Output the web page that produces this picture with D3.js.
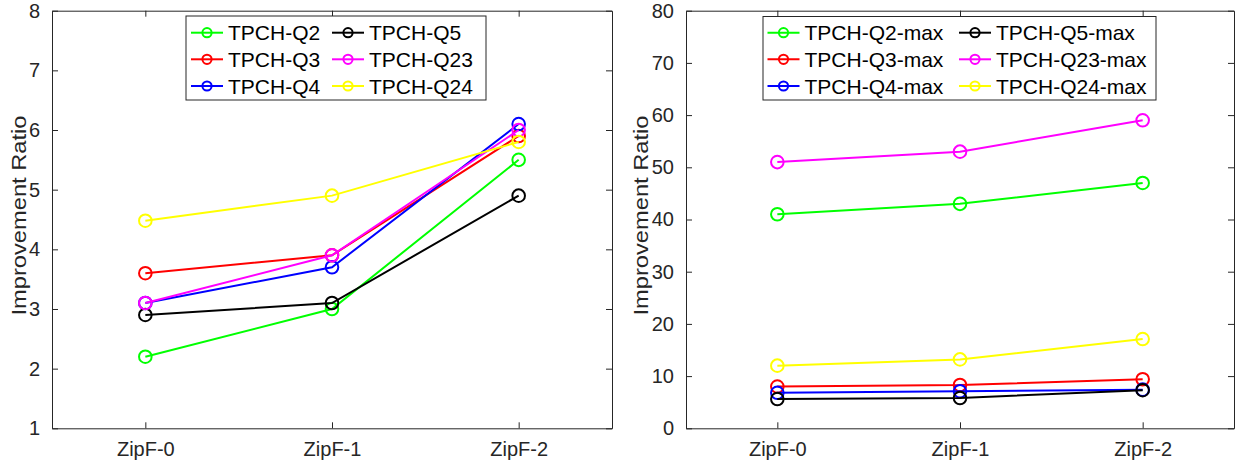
<!DOCTYPE html>
<html>
<head>
<meta charset="utf-8">
<script src="https://cdn.jsdelivr.net/npm/d3@7"></script>
<style>
  html, body { margin: 0; padding: 0; background: #fff; }
  svg { display: block; font-family: "Liberation Sans", Arial, Helvetica, sans-serif; }
</style>
</head>
<body>
<svg id="chart" width="1243" height="461"></svg>
<script>
// Categories on the x axis
const categories = ["ZipF-0", "ZipF-1", "ZipF-2"];

// Average improvement ratio per query
const q2  = [2.2, 3.0, 5.5];
const q3  = [3.6, 3.9, 5.9];
const q4  = [3.1, 3.7, 6.1];
const q5  = [2.9, 3.1, 4.9];
const q23 = [3.1, 3.9, 6.0];
const q24 = [4.48, 4.9, 5.8];

// Maximum improvement ratio per query
const q2Max  = [41, 43, 47];
const q3Max  = [8.0, 8.3, 9.4];
const q4Max  = [6.8, 7.1, 7.4];
const q5Max  = [5.6, 5.8, 7.3];
const q23Max = [51, 53, 59];
const q24Max = [12, 13.2, 17.1];

// Tick values
const leftTicks = [1, 2, 3, 4, 5, 6, 7, 8];
const rightTicks = [0, 10, 20, 30, 40, 50, 60, 70, 80];

const colors = {
  q2: "#00ff00", q3: "#ff0000", q4: "#0000ff",
  q5: "#000000", q23: "#ff00ff", q24: "#ffff00"
};

const leftSeries = [
  { name: "TPCH-Q2",  values: q2,  color: colors.q2 },
  { name: "TPCH-Q3",  values: q3,  color: colors.q3 },
  { name: "TPCH-Q4",  values: q4,  color: colors.q4 },
  { name: "TPCH-Q5",  values: q5,  color: colors.q5 },
  { name: "TPCH-Q23", values: q23, color: colors.q23 },
  { name: "TPCH-Q24", values: q24, color: colors.q24 }
];
const rightSeries = [
  { name: "TPCH-Q2-max",  values: q2Max,  color: colors.q2 },
  { name: "TPCH-Q3-max",  values: q3Max,  color: colors.q3 },
  { name: "TPCH-Q4-max",  values: q4Max,  color: colors.q4 },
  { name: "TPCH-Q5-max",  values: q5Max,  color: colors.q5 },
  { name: "TPCH-Q23-max", values: q23Max, color: colors.q23 },
  { name: "TPCH-Q24-max", values: q24Max, color: colors.q24 }
];

const svg = d3.select("#chart");
const axisColor = "#262626";

function drawPanel(opts) {
  const { x0, x1, y0, y1, domain, ticks, series, legend } = opts;
  const g = svg.append("g");

  const x = d3.scaleLinear().domain([0.5, categories.length + 0.5]).range([x0, x1]);
  const y = d3.scaleLinear().domain(domain).range([y1, y0]);

  // Axes box with inward ticks on all four sides
  const tickLen = 6;
  const bottom = d3.axisBottom(x).tickValues(categories.map((_, i) => i + 1))
    .tickFormat((d) => categories[d - 1]).tickSizeInner(-tickLen).tickSizeOuter(0).tickPadding(14);
  const top = d3.axisTop(x).tickValues(categories.map((_, i) => i + 1))
    .tickFormat("").tickSizeInner(-tickLen).tickSizeOuter(0);
  const left = d3.axisLeft(y).tickValues(ticks).tickFormat(d3.format("d"))
    .tickSizeInner(-tickLen).tickSizeOuter(0).tickPadding(12);
  const right = d3.axisRight(y).tickValues(ticks).tickFormat("")
    .tickSizeInner(-tickLen).tickSizeOuter(0);

  const styleAxis = (sel) => {
    sel.attr("font-family", null);
    sel.select(".domain").attr("stroke", axisColor).attr("stroke-width", 1);
    sel.selectAll(".tick line").attr("stroke", axisColor).attr("stroke-width", 1);
    sel.selectAll(".tick text").attr("fill", axisColor).style("font-size", "20px")
      .style("font-family", "'Liberation Sans', Arial, sans-serif");
  };

  g.append("g").attr("transform", `translate(0,${y1})`).call(bottom).call(styleAxis);
  g.append("g").attr("transform", `translate(0,${y0})`).call(top).call(styleAxis);
  g.append("g").attr("transform", `translate(${x0},0)`).call(left).call(styleAxis);
  g.append("g").attr("transform", `translate(${x1},0)`).call(right).call(styleAxis);

  // Y axis title
  g.append("text")
    .attr("transform", `translate(${opts.labelX},${(y0 + y1) / 2 - 4}) rotate(-90)`)
    .attr("text-anchor", "middle")
    .attr("fill", axisColor)
    .style("font-size", "20px")
    .attr("textLength", 200)
    .attr("lengthAdjust", "spacingAndGlyphs")
    .text("Improvement Ratio");

  // Lines and markers
  const line = d3.line().x((d, i) => x(i + 1)).y((d) => y(d));
  series.forEach((s) => {
    const sg = g.append("g");
    sg.append("path").datum(s.values)
      .attr("d", line).attr("fill", "none")
      .attr("stroke", s.color).attr("stroke-width", 2);
    sg.selectAll("circle").data(s.values).join("circle")
      .attr("cx", (d, i) => x(i + 1)).attr("cy", (d) => y(d))
      .attr("r", 6.3).attr("fill", "none")
      .attr("stroke", s.color).attr("stroke-width", 2);
  });

  // Legend box (two columns, filled column-wise)
  const lg = g.append("g");
  lg.append("rect")
    .attr("x", legend.x).attr("y", legend.y)
    .attr("width", legend.w).attr("height", legend.h)
    .attr("fill", "#fff").attr("stroke", axisColor).attr("stroke-width", 1);
  const rowY = [32.7, 59.3, 86];
  series.forEach((s, i) => {
    const col = Math.floor(i / 3), row = i % 3;
    const lx = legend.cols[col];
    const ly = rowY[row];
    lg.append("line").attr("x1", lx).attr("x2", lx + 32).attr("y1", ly).attr("y2", ly)
      .attr("stroke", s.color).attr("stroke-width", 2);
    lg.append("circle").attr("cx", lx + 16).attr("cy", ly).attr("r", 4.6)
      .attr("fill", "none").attr("stroke", s.color).attr("stroke-width", 2);
    lg.append("text").attr("x", lx + 37).attr("y", ly + 7.5)
      .attr("fill", "#000").style("font-size", "21px").text(s.name);
  });
}

drawPanel({
  x0: 52, x1: 612, y0: 10.7, y1: 428.3,
  domain: [1, 8], ticks: leftTicks, series: leftSeries, labelX: 26,
  legend: { x: 186, y: 16, w: 300, h: 84, cols: [191, 332] }
});

drawPanel({
  x0: 686, x1: 1234, y0: 10.7, y1: 428.3,
  domain: [0, 80], ticks: rightTicks, series: rightSeries, labelX: 648,
  legend: { x: 763, y: 16.5, w: 393, h: 83.5, cols: [767.5, 959] }
});
</script>
</body>
</html>
